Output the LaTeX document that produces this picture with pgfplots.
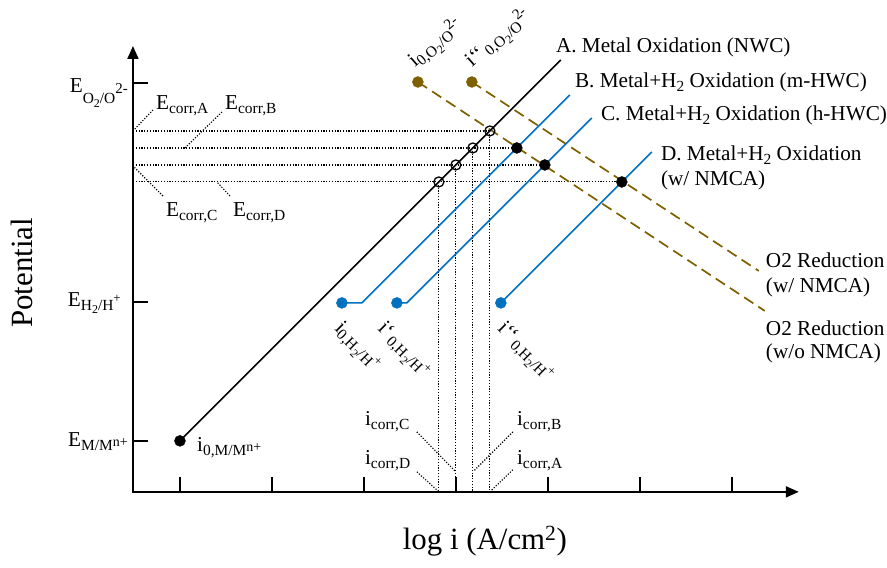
\documentclass[border=0pt]{standalone}
\usepackage{fontspec}
\setmainfont{Liberation Serif}
\usepackage{pgfplots}
\pgfplotsset{compat=1.18}
\usetikzlibrary{arrows.meta}

\definecolor{oxblue}{RGB}{0,112,192}
\definecolor{o2brown}{RGB}{127,96,0}

% subscripts and superscripts with fixed sizes and offsets
\newcommand\sbs[2][3.5pt]{\raisebox{-#1}{\fontsize{15.5}{15.5}\selectfont #2}}
\newcommand\ssbs[1]{\raisebox{-3.5pt}{\fontsize{12}{12}\selectfont #1}}
\newcommand\sps[2][5pt]{\raisebox{#1}{\fontsize{13}{13}\selectfont #2}}
\newcommand\gtick{\symbol{"60}}

\tikzset{
  lab/.style={font=\fontsize{21.3}{25}\selectfont, inner sep=0pt},
  big/.style={font=\fontsize{31}{36}\selectfont, inner sep=0pt},
}

\begin{document}
\begin{tikzpicture}
\begin{axis}[
  scale only axis, width=887bp, height=568bp,
  xmin=0, xmax=887, ymin=0, ymax=568, y dir=reverse,
  hide axis, clip=false,
  leader/.style={black, line width=1.1bp, dash pattern=on 1.2bp off 1.6bp, forget plot},
  oxline/.style={line width=1.6bp, forget plot},
  redline/.style={o2brown, line width=1.7bp, dash pattern=on 11bp off 6bp, forget plot},
  tk/.style={black, line width=2bp, forget plot},
]
% canvas extent
\addplot[draw=none, forget plot] coordinates {(0,0) (887,568)};

% axes with arrow heads
\addplot[black, line width=2bp, line join=miter,
  {Triangle[length=13bp,width=11bp]}-{Triangle[length=13bp,width=11bp]}, forget plot]
  coordinates {(133,46) (133,492) (799,492)};

% y ticks
\addplot[tk] coordinates {(133,83) (148,83)};
\addplot[tk] coordinates {(133,302) (148,302)};
\addplot[tk] coordinates {(133,441) (148,441)};
% x ticks
\addplot[tk] coordinates {(180,477) (180,492)};
\addplot[tk] coordinates {(272,477) (272,492)};
\addplot[tk] coordinates {(364,477) (364,492)};
\addplot[tk] coordinates {(456,477) (456,492)};
\addplot[tk] coordinates {(548,477) (548,492)};
\addplot[tk] coordinates {(640,477) (640,492)};
\addplot[tk] coordinates {(732,477) (732,492)};

% corrosion potentials and currents
\addplot[leader] coordinates {(133,131) (490,131)};
\addplot[leader] coordinates {(133,148) (517,148)};
\addplot[leader] coordinates {(133,165) (545,165)};
\addplot[leader] coordinates {(133,182) (622,182)};
\addplot[leader] coordinates {(490,131) (490,492)};
\addplot[leader] coordinates {(473,148) (473,492)};
\addplot[leader] coordinates {(456,165) (456,492)};
\addplot[leader] coordinates {(439,182) (439,492)};
% label leaders
\addplot[leader] coordinates {(153,110) (133,131)};
\addplot[leader] coordinates {(222,112) (185,148)};
\addplot[leader] coordinates {(163,196) (133,166)};
\addplot[leader] coordinates {(230,196) (217,182)};
\addplot[leader] coordinates {(417,432) (455,471)};
\addplot[leader] coordinates {(417,472) (438,491)};
\addplot[leader] coordinates {(513,432) (474,471)};
\addplot[leader] coordinates {(513,470) (491,491)};

% O2 reduction lines
\addplot[redline] coordinates {(418,82) (765,311)};
\addplot[redline] coordinates {(472,82) (759,271)};

% oxidation lines
\addplot[oxline, black]  coordinates {(180,441) (561,60)};
\addplot[oxline, oxblue] coordinates {(342,303) (362,303) (570,95)};
\addplot[oxline, oxblue] coordinates {(397,303) (407,303) (592,118)};
\addplot[oxline, oxblue] coordinates {(501,303) (652,152)};

% exchange current densities
\addplot[only marks, mark=*, mark size=5.5bp, black, forget plot]
  coordinates {(180,441) (517,148) (545,165) (622,182)};
\addplot[only marks, mark=*, mark size=5.5bp, oxblue, forget plot]
  coordinates {(342,303) (397,303) (501,303)};
\addplot[only marks, mark=*, mark size=5.5bp, o2brown, forget plot]
  coordinates {(418,82) (472,82)};
\addplot[only marks, mark=o, mark size=5bp, black, line width=1.3bp, forget plot]
  coordinates {(490,131) (473,148) (456,165) (439,182)};

% y tick labels
\node[lab, anchor=base east] at (axis cs:128,93) {E\sbs[11pt]{O\ssbs{2}/O\sps[10.5pt]{\fontsize{15}{15}\selectfont 2-}}};
\node[lab, anchor=base east] at (axis cs:121,307) {E\sbs{H\ssbs{2}/H\sps[8pt]{+}}};
\node[lab, anchor=base east] at (axis cs:128,447) {E\sbs{M/M\sps[3.5pt]{\fontsize{14}{14}\selectfont n+}}};

% axis titles
\node[big, rotate=90, anchor=base] at (axis cs:33,273) {Potential};
\node[big, anchor=base] at (axis cs:485,550) {log i (A/cm\textsuperscript{2})};

% curve labels
\node[lab, anchor=base west] at (axis cs:556,53) {A. Metal Oxidation (NWC)};
\node[lab, anchor=base west] at (axis cs:575,88) {B. Metal+H\sbs{2} Oxidation (m-HWC)};
\node[lab, anchor=base west] at (axis cs:601,121) {C. Metal+H\sbs{2} Oxidation (h-HWC)};
\node[lab, anchor=base west] at (axis cs:661,161) {D. Metal+H\sbs{2} Oxidation};
\node[lab, anchor=base west] at (axis cs:661,186) {(w/ NMCA)};
\node[lab, anchor=base west] at (axis cs:766,268) {O2 Reduction};
\node[lab, anchor=base west] at (axis cs:766,293) {(w/ NMCA)};
\node[lab, anchor=base west] at (axis cs:766,336) {O2 Reduction};
\node[lab, anchor=base west] at (axis cs:766,359) {(w/o NMCA)};

% corrosion labels
\node[lab, anchor=base west] at (axis cs:156,110) {E\sbs{corr,A}};
\node[lab, anchor=base west] at (axis cs:225,110) {E\sbs{corr,B}};
\node[lab, anchor=base west] at (axis cs:166,217) {E\sbs{corr,C}};
\node[lab, anchor=base west] at (axis cs:233,217) {E\sbs{corr,D}};
\node[lab, anchor=base west] at (axis cs:365,426) {i\sbs{corr,C}};
\node[lab, anchor=base west] at (axis cs:517,426) {i\sbs{corr,B}};
\node[lab, anchor=base west] at (axis cs:365,465) {i\sbs{corr,D}};
\node[lab, anchor=base west] at (axis cs:517,465) {i\sbs{corr,A}};

% exchange current labels
\node[lab, anchor=base west] at (axis cs:197,452) {i\sbs{0,M/M\sps[3.5pt]{\fontsize{14}{14}\selectfont n+}}};
\node[lab, rotate=41, anchor=base west] at (axis cs:415,68) {i\sbs{0,O\ssbs{2}/O\sps[9pt]{\fontsize{15}{15}\selectfont 2-}}};
\node[lab, rotate=41, anchor=base west] at (axis cs:472,68) {i\gtick\gtick\sbs{\,0,O\ssbs{2}/O\sps[9pt]{\fontsize{15}{15}\selectfont 2-}}};
\node[lab, rotate=-45, anchor=base west] at (axis cs:334,329) {i\sbs{0,H\ssbs{2}/H\sps[8pt]{+}}};
\node[lab, rotate=-45, anchor=base west] at (axis cs:377,329) {i\gtick\sbs{\,0,H\ssbs{2}/H\sps[8pt]{+}}};
\node[lab, rotate=-45, anchor=base west] at (axis cs:497,329) {i\gtick\gtick\sbs{\,0,H\ssbs{2}/H\sps[8pt]{+}}};
\end{axis}
\end{tikzpicture}
\end{document}
